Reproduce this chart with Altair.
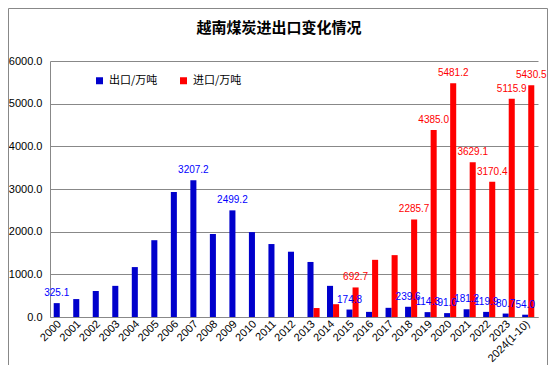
import altair as alt
import pandas as pd

years = ["2000", "2001", "2002", "2003", "2004", "2005", "2006", "2007", "2008", "2009",
         "2010", "2011", "2012", "2013", "2014", "2015", "2016", "2017", "2018", "2019",
         "2020", "2021", "2022", "2023", "2024(1-10)"]
export_vals = [325.1, 420, 610, 730, 1170, 1800, 2930, 3207.2, 1945, 2499.2,
               1990, 1710, 1530, 1290, 730, 174.8, 120, 215, 239.6, 114.3,
               91.0, 181.2, 119.9, 80.7, 54.0]
import_vals = [None, None, None, None, None, None, None, None, None, None,
               None, None, None, 210, 300, 692.7, 1340, 1450, 2285.7, 4385.0,
               5481.2, 3629.1, 3170.4, 5115.9, 5430.5]
export_labeled = ["2000", "2007", "2009", "2015", "2018", "2019", "2020",
                  "2021", "2022", "2023", "2024(1-10)"]
import_labeled = ["2015", "2018", "2019", "2020", "2021", "2022", "2023", "2024(1-10)"]
title_text = ["越南煤炭进出口变化情况"]

S_EXP = "出口/万吨"
S_IMP = "进口/万吨"

rows = []
for y, e, i in zip(years, export_vals, import_vals):
    rows.append({"year": y, "series": S_EXP, "value": e,
                 "label": f"{e:.1f}" if y in export_labeled else ""})
    if i is not None:
        rows.append({"year": y, "series": S_IMP, "value": i,
                     "label": f"{i:.1f}" if y in import_labeled else ""})
df = pd.DataFrame(rows)

FONT = "Liberation Sans"
CJK = "Noto Sans CJK SC"

x_enc = alt.X("year:N", sort=years,
              scale=alt.Scale(paddingInner=0.38, paddingOuter=0.19),
              axis=alt.Axis(title=None, labelAngle=-45, labelAlign="right",
                            labelBaseline="middle", labelFontSize=11, labelFont=FONT,
                            labelColor="#000", ticks=False, domainColor="#888",
                            labelPadding=5))
xoff = alt.XOffset("series:N", sort=[S_EXP, S_IMP],
                   scale=alt.Scale(domain=[S_EXP, S_IMP], paddingInner=0, paddingOuter=0))
y_enc = alt.Y("value:Q", scale=alt.Scale(domain=[0, 6000], nice=False),
              axis=alt.Axis(title=None, values=[0, 1000, 2000, 3000, 4000, 5000, 6000],
                            format=".1f", labelFontSize=11, labelFont=FONT,
                            labelColor="#000", ticks=False, domainColor="#888",
                            gridColor="#888", labelPadding=8))

base = alt.Chart(df)

bars = base.mark_bar().encode(
    x=x_enc, xOffset=xoff, y=y_enc,
    color=alt.Color("series:N", sort=[S_EXP, S_IMP],
                    scale=alt.Scale(domain=[S_EXP, S_IMP], range=["#0000CC", "#FF0000"]),
                    legend=alt.Legend(title=None, orient="none", legendX=44, legendY=14,
                                      direction="horizontal", symbolType="square",
                                      symbolSize=49, labelFontSize=11, labelFont=CJK,
                                      labelColor="#000", columnPadding=20,
                                      symbolStrokeWidth=0))
)

txt_exp = base.transform_filter(alt.datum.series == S_EXP).mark_text(
    baseline="bottom", dy=-5, fontSize=10, font=FONT, color="#0000FF"
).encode(x=x_enc, xOffset=xoff, y=y_enc, text="label:N")

txt_imp = base.transform_filter(alt.datum.series == S_IMP).mark_text(
    baseline="bottom", dy=-5, fontSize=10, font=FONT, color="#FF0000"
).encode(x=x_enc, xOffset=xoff, y=y_enc, text="label:N")

title = alt.Chart(pd.DataFrame({"t": title_text})).mark_text(
    font=CJK, fontSize=15, fontWeight="bold", color="#000", baseline="middle", align="center"
).encode(x=alt.value(229), y=alt.value(-33), text="t:N")

frame = alt.Chart(pd.DataFrame({"a": [0]})).mark_rect(
    fill="transparent", stroke="#888", strokeWidth=1
).encode(x=alt.value(-41.5), x2=alt.value(497.5), y=alt.value(-52.5), y2=alt.value(304.5))

chart = alt.layer(bars, txt_exp, txt_imp, title, frame).properties(
    width=488, height=256,
    padding={"left": 42, "top": 53, "right": 10, "bottom": 48},
    autosize=alt.AutoSizeParams(type="none"),
).configure_view(stroke=None).configure_axis(grid=True).configure_axisX(grid=False)

chart.save("out.html", embed_options={"renderer": "svg", "actions": False})
